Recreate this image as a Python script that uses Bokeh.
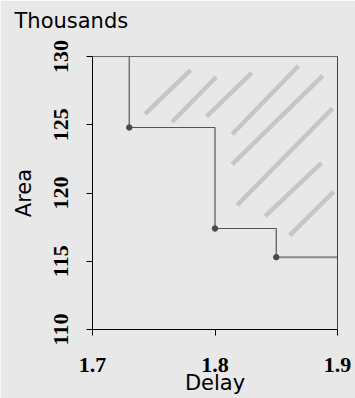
from bokeh.plotting import figure
from bokeh.models import FixedTicker, LinearAxis, Range1d
from bokeh.embed import file_html
from bokeh.resources import INLINE

# ---- data ----
delay = [1.73, 1.80, 1.85]
area = [124.8, 117.4, 115.3]
x_min, x_max = 1.7, 1.9
y_min, y_max = 110, 130
x_ticks = [1.7, 1.8, 1.9]
y_ticks = [110, 115, 120, 125, 130]
unit_text = "Thousands"

# hatch strokes marking the dominated region (data coordinates)
hatch_x0 = [1.743, 1.765, 1.793, 1.814, 1.814, 1.818, 1.841, 1.861]
hatch_y0 = [125.8, 125.2, 125.6, 124.3, 122.1, 119.1, 118.3, 116.9]
hatch_x1 = [1.780, 1.801, 1.830, 1.868, 1.888, 1.896, 1.887, 1.897]
hatch_y1 = [129.0, 128.5, 128.8, 129.3, 128.6, 126.2, 122.2, 120.1]

BG = "#e8e8e8"

p = figure(width=355, height=398, output_backend="svg", toolbar_location=None,
           x_range=Range1d(x_min, x_max), y_range=Range1d(y_min, y_max),
           min_border_left=92, min_border_right=18, min_border_top=56, min_border_bottom=69)
p.background_fill_color = BG
p.border_fill_color = BG
p.outline_line_color = "#6a6a6a"
p.grid.visible = False

# unit caption as title (blank second line lifts it above the frame)
p.title.text = unit_text + "\n "
p.title.align = "left"
p.title.text_font = "DejaVu Sans"
p.title.text_font_size = "21px"
p.title.text_font_style = "normal"
p.title.text_color = "#000000"
p.title.offset = -78
p.title.standoff = 0

for ax in (p.xaxis[0], p.yaxis[0]):
    ax.axis_line_color = "#000000"
    ax.major_tick_line_color = "#000000"
    ax.major_tick_out = 6
    ax.major_tick_in = 0
    ax.minor_tick_line_color = None
    ax.major_label_text_font = "Liberation Serif"
    ax.major_label_text_font_style = "bold"
    ax.major_label_text_font_size = "22px"
    ax.major_label_text_color = "#000000"
    ax.axis_label_text_font = "DejaVu Sans"
    ax.axis_label_text_font_size = "21px"
    ax.axis_label_text_font_style = "normal"
    ax.axis_label_text_color = "#000000"

p.xaxis.ticker = FixedTicker(ticks=x_ticks)
p.yaxis.ticker = FixedTicker(ticks=y_ticks)
p.xaxis.axis_label = "Delay"
p.yaxis.axis_label = "Area"
p.xaxis.major_label_standoff = 22
p.xaxis.axis_label_standoff = -4
p.yaxis.major_label_standoff = 19
p.yaxis.axis_label_standoff = 15
p.yaxis.major_label_orientation = "vertical"

# right border line (darker)
rax = LinearAxis(axis_line_color="#404040", ticker=FixedTicker(ticks=[]),
                 major_tick_line_color=None, minor_tick_line_color=None)
p.add_layout(rax, "right")

# hatch strokes
p.segment(x0=hatch_x0, y0=hatch_y0, x1=hatch_x1, y1=hatch_y1,
          line_color="#c6c6c6", line_width=4.5, line_cap="butt")

# step frontier
sx, sy = [delay[0]], [y_max]
for i, (d, a) in enumerate(zip(delay, area)):
    if i > 0:
        sx.append(d); sy.append(area[i - 1])
    sx.append(d); sy.append(a)
p.line(sx, sy, line_color="#555555", line_width=1.2)
p.line([delay[-1], x_max], [area[-1], area[-1]], line_color="#8a8a8a", line_width=2)
p.scatter(delay, area, marker="circle", size=5.5, fill_color="#4a4a4a", line_color="#4a4a4a")

open("out.html", "w").write(file_html(p, INLINE))
